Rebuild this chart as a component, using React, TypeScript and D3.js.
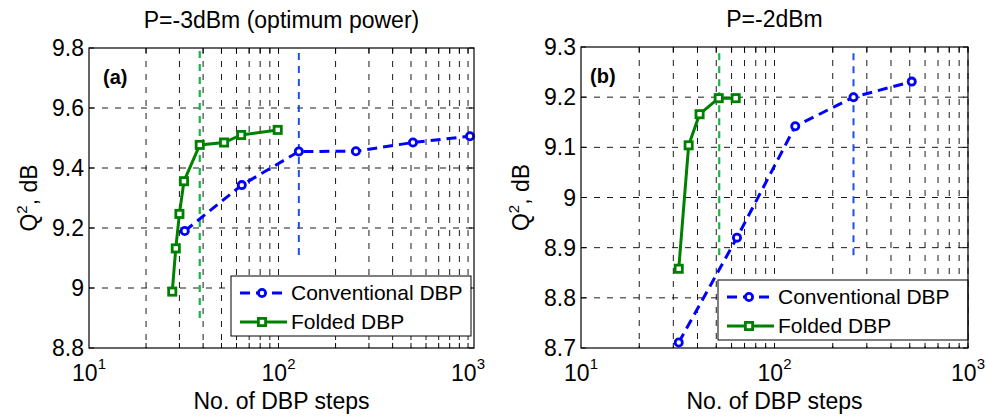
import { useEffect, useRef } from "react";
import * as d3 from "d3";

// Panel (a): P = -3 dBm
const convStepsA = [32, 64, 128, 256, 512, 1024];
const convQA = [9.19, 9.343, 9.455, 9.456, 9.485, 9.506];
const foldStepsA = [27.5, 28.7, 30, 31.7, 38.4, 51.6, 63.5, 99];
const foldQA = [8.988, 9.132, 9.247, 9.356, 9.477, 9.485, 9.51, 9.527];
const yTicksA = [8.8, 9, 9.2, 9.4, 9.6, 9.8];

// Panel (b): P = -2 dBm
const convStepsB = [32, 64, 128, 256, 512];
const convQB = [8.711, 8.92, 9.142, 9.2, 9.231];
const foldStepsB = [32, 36, 41, 51.5, 63];
const foldQB = [8.858, 9.104, 9.166, 9.198, 9.198];
const yTicksB = [8.7, 8.8, 8.9, 9, 9.1, 9.2, 9.3];

// vertical markers at the "optimum" number of steps: [steps, qFrom, qTo]
const optFoldA = [38.4, 8.9, 9.79];
const optConvA = [128, 9.11, 9.79];
const optFoldB = [51.8, 8.885, 9.29];
const optConvB = [256, 8.885, 9.29];

const xDecades = [10, 100, 1000];
const seriesNames = ["Conventional DBP", "Folded DBP"];

const FONT = "'Liberation Sans', Arial, sans-serif";
const BLUE = "#0000ff";
const GREEN = "#008000";

const panels = [
  {
    title: "P=-3dBm (optimum power)", tag: "(a)",
    left: 89, right: 474, top: 48, bottom: 348,
    xDomain: [10, 1075], yDomain: [8.8, 9.8], yTicks: yTicksA,
    conv: convStepsA.map((s, i) => [s, convQA[i]]),
    fold: foldStepsA.map((s, i) => [s, foldQA[i]]),
    optFold: optFoldA, optConv: optConvA,
    legend: { x: 231, y: 276, w: 240, h: 60 }, tagDx: 14, titleY: 28,
  },
  {
    title: "P=-2dBm", tag: "(b)",
    left: 581, right: 968, top: 47, bottom: 348,
    xDomain: [10, 1000], yDomain: [8.7, 9.3], yTicks: yTicksB,
    conv: convStepsB.map((s, i) => [s, convQB[i]]),
    fold: foldStepsB.map((s, i) => [s, foldQB[i]]),
    optFold: optFoldB, optConv: optConvB,
    legend: { x: 718, y: 280, w: 250, h: 60 }, tagDx: 9, titleY: 27,
  },
];

function drawPanel(svg, p) {
  const x = d3.scaleLog().domain(p.xDomain).range([p.left, p.right]);
  const y = d3.scaleLinear().domain(p.yDomain).range([p.bottom, p.top]);
  const g = svg.append("g");

  // all log ticks 20..1000 that fall inside the axis
  const xTicks = [];
  for (let d = 10; d < 1000; d *= 10) for (let k = 2; k <= 10; k++) xTicks.push(d * k);
  const inside = xTicks.filter(v => v <= p.xDomain[1]);

  g.append("rect").attr("x", p.left).attr("y", p.top)
    .attr("width", p.right - p.left).attr("height", p.bottom - p.top).attr("fill", "#fff");

  // grid
  g.selectAll(".vgrid").data(inside).enter().append("line")
    .attr("x1", d => x(d)).attr("x2", d => x(d)).attr("y1", p.top).attr("y2", p.bottom)
    .attr("stroke", "#000").attr("stroke-width", 0.9).attr("stroke-dasharray", "6,7");
  g.selectAll(".hgrid").data(p.yTicks.slice(1, -1)).enter().append("line")
    .attr("x1", p.left).attr("x2", p.right).attr("y1", d => y(d)).attr("y2", d => y(d))
    .attr("stroke", "#000").attr("stroke-width", 0.9).attr("stroke-dasharray", "6,7");

  // ticks (inward, all four sides)
  inside.forEach(v => {
    g.append("line").attr("x1", x(v)).attr("x2", x(v)).attr("y1", p.bottom).attr("y2", p.bottom - 5).attr("stroke", "#000");
    g.append("line").attr("x1", x(v)).attr("x2", x(v)).attr("y1", p.top).attr("y2", p.top + 5).attr("stroke", "#000");
  });
  p.yTicks.forEach(v => {
    g.append("line").attr("x1", p.left).attr("x2", p.left + 5).attr("y1", y(v)).attr("y2", y(v)).attr("stroke", "#000");
    g.append("line").attr("x1", p.right).attr("x2", p.right - 5).attr("y1", y(v)).attr("y2", y(v)).attr("stroke", "#000");
  });

  // optimum step markers
  g.append("line").attr("x1", x(p.optFold[0])).attr("x2", x(p.optFold[0]))
    .attr("y1", y(p.optFold[1])).attr("y2", y(p.optFold[2]))
    .attr("stroke", "#1db34a").attr("stroke-width", 2.2).attr("stroke-dasharray", "7,6");
  g.append("line").attr("x1", x(p.optConv[0])).attr("x2", x(p.optConv[0]))
    .attr("y1", y(p.optConv[1])).attr("y2", y(p.optConv[2]))
    .attr("stroke", "#1f4fe8").attr("stroke-width", 2).attr("stroke-dasharray", "7,6");

  const line = d3.line().x(d => x(d[0])).y(d => y(d[1]));

  g.append("path").datum(p.conv).attr("d", line).attr("fill", "none")
    .attr("stroke", BLUE).attr("stroke-width", 3).attr("stroke-dasharray", "10,6");
  g.selectAll(".cm").data(p.conv).enter().append("circle")
    .attr("cx", d => x(d[0])).attr("cy", d => y(d[1])).attr("r", 3.6)
    .attr("fill", "#fff").attr("stroke", BLUE).attr("stroke-width", 2.8);

  g.append("path").datum(p.fold).attr("d", line).attr("fill", "none")
    .attr("stroke", GREEN).attr("stroke-width", 3);
  g.selectAll(".fm").data(p.fold).enter().append("rect")
    .attr("x", d => x(d[0]) - 3.6).attr("y", d => y(d[1]) - 3.6).attr("width", 7.2).attr("height", 7.2)
    .attr("fill", "#fff").attr("stroke", GREEN).attr("stroke-width", 2.8);

  // legend
  const L = p.legend;
  const lg = g.append("g").attr("transform", `translate(${L.x},${L.y})`);
  lg.append("rect").attr("width", L.w).attr("height", L.h).attr("fill", "#fff").attr("stroke", "#000").attr("stroke-width", 1);
  seriesNames.forEach((name, i) => {
    const cy = i === 0 ? 17 : 46;
    const col = i === 0 ? BLUE : GREEN;
    lg.append("line").attr("x1", 9).attr("x2", 56).attr("y1", cy).attr("y2", cy)
      .attr("stroke", col).attr("stroke-width", 3).attr("stroke-dasharray", i === 0 ? "10,6" : null);
    if (i === 0) {
      lg.append("circle").attr("cx", 31).attr("cy", cy).attr("r", 3.6).attr("fill", "#fff").attr("stroke", col).attr("stroke-width", 2.8);
    } else {
      lg.append("rect").attr("x", 31 - 3.6).attr("y", cy - 3.6).attr("width", 7.2).attr("height", 7.2)
        .attr("fill", "#fff").attr("stroke", col).attr("stroke-width", 2.8);
    }
    lg.append("text").attr("x", 60).attr("y", cy).attr("dy", "0.35em")
      .style("font-family", FONT).style("font-size", "21px").text(name);
  });

  // frame
  g.append("rect").attr("x", p.left).attr("y", p.top)
    .attr("width", p.right - p.left).attr("height", p.bottom - p.top)
    .attr("fill", "none").attr("stroke", "#000").attr("stroke-width", 1.2);

  // y tick labels
  g.selectAll(".yl").data(p.yTicks).enter().append("text")
    .attr("x", p.left - 5).attr("y", d => y(d)).attr("dy", "0.35em").attr("text-anchor", "end")
    .style("font-family", FONT).style("font-size", "23px")
    .text(d => String(+d.toFixed(1)));

  // x tick labels 10^n
  xDecades.forEach(v => {
    const t = g.append("text").attr("x", x(v)).attr("y", p.bottom + 33).attr("text-anchor", "middle")
      .style("font-family", FONT).style("font-size", "23px");
    t.append("tspan").text("10");
    t.append("tspan").attr("dy", -12).style("font-size", "15px").text(String(Math.round(Math.log10(v))));
  });

  // axis labels, title, tag
  const cx = (p.left + p.right) / 2;
  g.append("text").attr("x", cx).attr("y", 409).attr("text-anchor", "middle")
    .style("font-family", FONT).style("font-size", "23px").text("No. of DBP steps");
  g.append("text").attr("x", cx).attr("y", p.titleY).attr("text-anchor", "middle")
    .style("font-family", FONT).style("font-size", "23px").text(p.title);

  const yl = g.append("text")
    .attr("transform", `translate(${p.left - 52},${(p.top + p.bottom) / 2}) rotate(-90)`)
    .attr("text-anchor", "middle").style("font-family", FONT).style("font-size", "23px");
  yl.append("tspan").text("Q");
  yl.append("tspan").attr("dy", -10).style("font-size", "15px").text("2");
  yl.append("tspan").attr("dy", 10).text(", dB");

  g.append("text").attr("x", p.left + p.tagDx).attr("y", p.top + 36)
    .style("font-family", FONT).style("font-size", "20px").style("font-weight", "bold").text(p.tag);
}

export default function App() {
  const svgRef = useRef(null);

  useEffect(() => {
    const svg = d3.select(svgRef.current);
    svg.selectAll("*").remove();
    panels.forEach(p => drawPanel(svg, p));
  }, []);

  return (
    <svg ref={svgRef} width={986} height={417}
      style={{ position: "absolute", left: 0, top: 0, background: "#fff" }} />
  );
}
